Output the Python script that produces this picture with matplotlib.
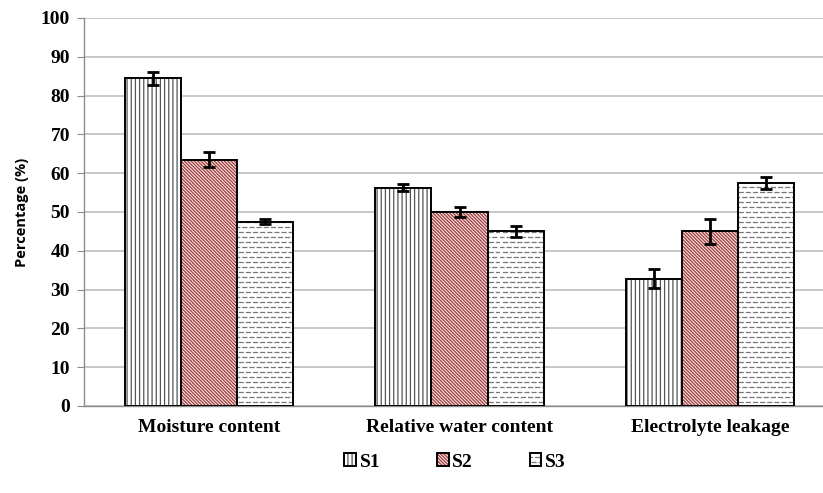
import warnings
import numpy as np
import matplotlib
matplotlib.use("Agg")
import matplotlib.pyplot as plt
from matplotlib import hatch as mhatch
from matplotlib.path import Path

warnings.filterwarnings("ignore")

categories = ["Moisture content", "Relative water content", "Electrolyte leakage"]
series = ["S1", "S2", "S3"]
s1 = [84.5, 56.3, 32.8]
s2 = [63.5, 50.0, 45.0]
s3 = [47.5, 45.0, 57.5]
s1_err = [1.7, 1.0, 2.5]
s2_err = [2.0, 1.2, 3.3]
s3_err = [0.6, 1.5, 1.5]


# dashed horizontal hatch (Excel "dashed horizontal" pattern), used with "_"
class DashHatch(mhatch.HatchPatternBase):
    def __init__(self, hatch, density):
        n = hatch.count("_")
        self.rows = 20 * n
        self.dashes = 14
        self.num_vertices = self.rows * self.dashes * 2

    def set_vertices_and_codes(self, vertices, codes):
        k = 0
        step = 1.0 / self.dashes
        for r in range(self.rows):
            y = (r + 0.5) / self.rows
            off = 0.5 * step if r % 2 else 0.0
            for d in range(self.dashes):
                x0 = (d * step + off) % 1.0
                x1 = min(x0 + 0.55 * step, 1.0)
                vertices[k] = (x0, y)
                vertices[k + 1] = (x1, y)
                codes[k] = Path.MOVETO
                codes[k + 1] = Path.LINETO
                k += 2


mhatch._hatch_types.append(DashHatch)

plt.rcParams["hatch.linewidth"] = 0.9

fig = plt.figure(figsize=(8.23, 4.93), dpi=100)
ax = fig.add_axes([84 / 823, 87 / 493, 751 / 823, 388 / 493])

x = np.arange(len(categories))
w = 0.224
err_kw = dict(ecolor="black", elinewidth=2.0, capsize=4, capthick=2.0)

b1 = ax.bar(x - w, s1, w, yerr=s1_err, facecolor="white", edgecolor="black",
            hatch="||||", linewidth=1.4, error_kw=err_kw, zorder=3, label="S1")
b2 = ax.bar(x, s2, w, yerr=s2_err, facecolor="#f6e4e4", edgecolor="black",
            linewidth=1.4, error_kw=err_kw, zorder=3, label="S2")
for p in b2.patches:
    p.set_hatch("\\" * 10)
    p._hatch_color = matplotlib.colors.to_rgba("#a03c3c")
b3 = ax.bar(x + w, s3, w, yerr=s3_err, facecolor="white", edgecolor="black",
            hatch="_", linewidth=1.4, error_kw=err_kw, zorder=3, label="S3")
for p in b3.patches:
    p._hatch_color = matplotlib.colors.to_rgba("#777777")
for p in b1.patches:
    p._hatch_color = matplotlib.colors.to_rgba("#555555")

ax.set_xlim(-0.5, 2.5)
ax.set_ylim(0, 100)
ax.set_yticks(range(0, 101, 10))
ax.yaxis.grid(True, color="#c4c4c4", linewidth=1.3, zorder=0)
ax.set_axisbelow(True)

for s in ["top", "right"]:
    ax.spines[s].set_visible(False)
ax.spines["left"].set_color("#8c8c8c")
ax.spines["bottom"].set_color("#8c8c8c")
ax.spines["left"].set_linewidth(1.0)
ax.spines["bottom"].set_linewidth(1.0)

ax.set_xticks(x)
ax.set_xticklabels(categories, fontfamily="Liberation Serif", fontweight="bold", fontsize=14)
ax.tick_params(axis="x", length=0, pad=9)
ax.tick_params(axis="y", length=5, color="#8c8c8c", pad=5)
for t in ax.get_yticklabels():
    t.set_fontfamily("Liberation Serif")
    t.set_fontweight("bold")
    t.set_fontsize(14)

ax.set_ylabel("Percentage (%)", fontfamily="Open Sans", fontweight="bold",
              fontsize=10.5)
ax.yaxis.set_label_coords(-0.073, 0.5)

leg = fig.legend(handles=[b1, b2, b3], labels=series, loc="center",
                 bbox_to_anchor=(455 / 823, 31 / 493), ncol=3, frameon=False,
                 handlelength=0.6, handleheight=0.6, handletextpad=0.2,
                 columnspacing=2.9,
                 prop={"family": "Liberation Serif", "weight": "bold", "size": 14})

fig.savefig("out.png", dpi=100)
